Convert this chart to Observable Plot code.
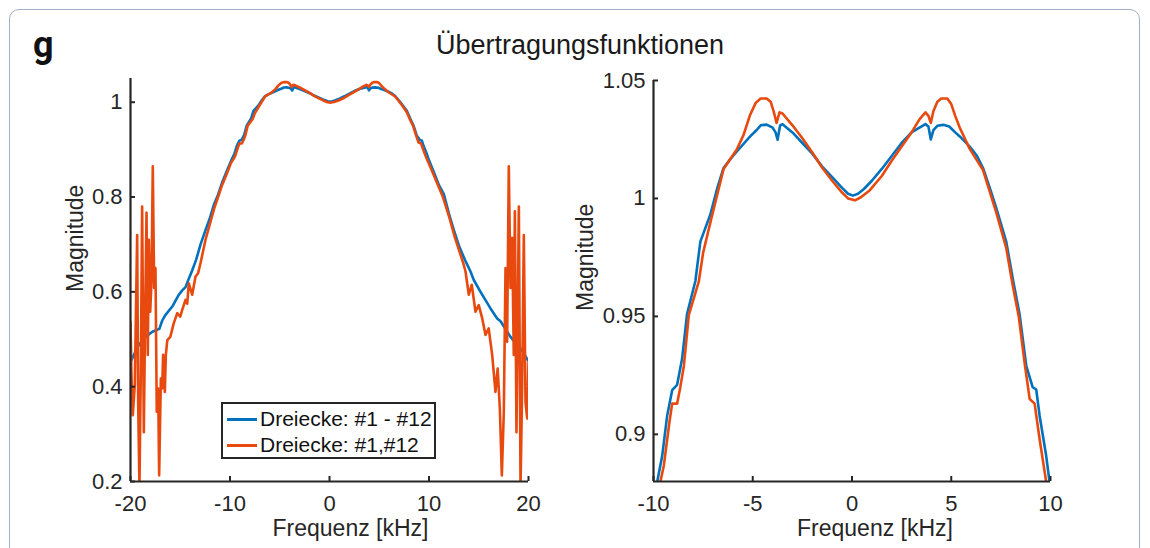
<!DOCTYPE html>
<html>
<head>
<meta charset="utf-8">
<script src="https://cdn.jsdelivr.net/npm/d3@7"></script>
<script src="https://cdn.jsdelivr.net/npm/@observablehq/plot@0.6"></script>
<style>
  html, body { margin: 0; padding: 0; width: 1150px; height: 548px; overflow: hidden; background: #fff; }
  #wrap { position: relative; width: 1150px; height: 548px; font-family: "Liberation Sans", Arial, sans-serif; }
  #frame { position: absolute; left: 9px; top: 9px; width: 1131px; height: 600px; border: 1.5px solid #a3b1c6; border-radius: 10px; box-sizing: border-box; }
  .plotlayer { position: absolute; left: 0; top: 0; }
  #panel { position: absolute; left: 33px; top: 24px; font-family: Roboto, "Noto Sans", sans-serif; font-weight: 700; font-size: 36px; color: #111; }
  #title { position: absolute; left: 0; width: 1160px; top: 30px; text-align: center; font-size: 27px; color: #1a1a1a; }
  #legend { position: absolute; left: 221px; top: 402px; width: 215px; height: 57px; border: 2px solid #262626; background: #fff; box-sizing: border-box; font-size: 21px; color: #111; }
  .item { position: absolute; left: 0; height: 26px; line-height: 26px; }
  .item .sw { position: absolute; left: 4px; top: 12px; width: 30px; height: 3px; }
  .item span { position: absolute; left: 37px; white-space: nowrap; }
</style>
</head>
<body>
<div id="wrap">
  <div id="frame"></div>
  <div id="panel">g</div>
  <div id="title">Übertragungsfunktionen</div>
</div>
<script>
// ---------- data ----------
const seriesNames = ["Dreiecke: #1 - #12", "Dreiecke: #1,#12"];
const seriesColors = ["#0072BD", "#E8490E"];

// Series 1 (blue): frequency [kHz] and magnitude
const freqBlue = [-20, -19.6, -19.16, -18.5, -17.8, -17.1, -16.8, -16.5, -15.8, -15.14, -14.8, -14.47, -14.1, -13.8, -13.4, -12.96, -12.5, -12.0, -11.6, -11.2, -10.8, -10.3, -9.81, -9.56, -9.31, -9.06, -8.81, -8.56, -8.31, -7.89, -7.64, -7.14, -6.8, -6.47, -6.1, -5.79, -5.13, -4.8, -4.6, -4.3, -4.0, -3.85, -3.75, -3.62, -3.5, -3.0, -2.5, -2.0, -1.5, -1.0, -0.5, -0.2, 0.05, 0.3, 0.6, 1.0, 1.5, 2.0, 2.5, 3.0, 3.4, 3.7, 3.85, 3.97, 4.1, 4.3, 4.6, 4.9, 5.2, 5.43, 5.93, 6.3, 6.6, 7.0, 7.27, 7.77, 8.1, 8.44, 8.78, 9.1, 9.28, 9.45, 9.78, 9.95, 10.5, 11.0, 11.49, 12.0, 12.5, 13.0, 13.6, 14.17, 14.5, 15.18, 15.6, 16.18, 16.85, 17.19, 17.86, 18.19, 18.86, 19.4, 19.87, 20];
const magBlue = [0.452, 0.47, 0.488, 0.505, 0.516, 0.522, 0.54, 0.551, 0.569, 0.594, 0.603, 0.61, 0.63, 0.645, 0.668, 0.70, 0.728, 0.757, 0.785, 0.805, 0.83, 0.856, 0.88, 0.891, 0.908, 0.9187, 0.921, 0.932, 0.951, 0.965, 0.9817, 0.9931, 1.004, 1.0129, 1.017, 1.020, 1.0263, 1.029, 1.031, 1.0313, 1.030, 1.028, 1.0249, 1.031, 1.0315, 1.028, 1.0235, 1.019, 1.0135, 1.009, 1.0045, 1.002, 1.0012, 1.002, 1.004, 1.0075, 1.0125, 1.018, 1.0235, 1.028, 1.030, 1.0315, 1.0305, 1.025, 1.029, 1.0308, 1.0312, 1.0305, 1.028, 1.0263, 1.022, 1.018, 1.0129, 1.003, 0.9959, 0.9817, 0.966, 0.951, 0.929, 0.920, 0.919, 0.908, 0.891, 0.88, 0.852, 0.825, 0.806, 0.765, 0.73, 0.698, 0.668, 0.643, 0.625, 0.60, 0.585, 0.565, 0.544, 0.538, 0.516, 0.505, 0.488, 0.475, 0.458, 0.455];

// Series 2 (orange): frequency [kHz] and magnitude
const freqOrange = [-20.0, -19.9, -19.77, -19.57, -19.33, -19.23, -19.1, -18.96, -18.83, -18.66, -18.56, -18.39, -18.26, -18.16, -18.02, -17.89, -17.76, -17.62, -17.49, -17.36, -17.22, -17.12, -16.95, -16.82, -16.72, -16.55, -16.45, -16.3, -16.0, -15.65, -15.3, -15.0, -14.8, -14.47, -14.3, -14.14, -13.8, -13.47, -13.2, -12.96, -12.46, -12.0, -11.6, -11.2, -10.8, -10.3, -9.9, -9.65, -9.48, -9.2, -9.06, -8.81, -8.65, -8.47, -8.22, -7.72, -7.5, -7.1, -6.47, -5.79, -5.46, -5.13, -4.85, -4.6, -4.3, -4.1, -3.95, -3.8, -3.65, -3.5, -3.0, -2.5, -2.0, -1.5, -1.0, -0.5, -0.2, 0.15, 0.45, 0.9, 1.5, 2.0, 2.5, 3.0, 3.4, 3.7, 3.85, 3.97, 4.1, 4.3, 4.5, 4.8, 5.0, 5.2, 5.43, 5.93, 6.6, 7.27, 7.77, 8.1, 8.4, 8.7, 8.95, 9.2, 9.45, 9.78, 10.2, 10.8, 11.4, 12.0, 12.6, 13.17, 13.45, 13.67, 14.0, 14.3, 14.67, 15.0, 15.35, 15.68, 16.0, 16.35, 16.68, 16.9, 17.12, 17.32, 17.52, 17.69, 17.85, 18.02, 18.19, 18.36, 18.52, 18.63, 18.79, 19.03, 19.2, 19.36, 19.53, 19.7, 19.87, 20.0];
const magOrange = [0.537, 0.424, 0.34, 0.403, 0.72, 0.368, 0.19, 0.438, 0.78, 0.304, 0.495, 0.767, 0.467, 0.71, 0.558, 0.622, 0.865, 0.608, 0.65, 0.347, 0.396, 0.213, 0.417, 0.396, 0.467, 0.389, 0.467, 0.498, 0.505, 0.534, 0.555, 0.548, 0.562, 0.583, 0.575, 0.618, 0.594, 0.632, 0.64, 0.661, 0.71, 0.745, 0.775, 0.80, 0.825, 0.85, 0.872, 0.88, 0.8868, 0.905, 0.913, 0.913, 0.92, 0.929, 0.9506, 0.9647, 0.977, 0.991, 1.0125, 1.021, 1.027, 1.0355, 1.0405, 1.0424, 1.0424, 1.041, 1.037, 1.032, 1.0365, 1.036, 1.031, 1.0255, 1.0195, 1.013, 1.0075, 1.0025, 1.0, 0.9992, 1.0005, 1.0035, 1.0095, 1.016, 1.022, 1.028, 1.0335, 1.0365, 1.035, 1.032, 1.037, 1.041, 1.0424, 1.0424, 1.040, 1.035, 1.030, 1.021, 1.012, 0.994, 0.979, 0.963, 0.95, 0.93, 0.915, 0.913, 0.898, 0.88, 0.86, 0.83, 0.80, 0.76, 0.715, 0.678, 0.66, 0.643, 0.594, 0.615, 0.558, 0.572, 0.544, 0.509, 0.523, 0.467, 0.389, 0.438, 0.354, 0.213, 0.347, 0.65, 0.495, 0.865, 0.608, 0.714, 0.467, 0.77, 0.304, 0.78, 0.19, 0.396, 0.72, 0.368, 0.333, 0.452];

// Axis domains and ticks
const xDomainLeft = [-20, 20];
const yDomainLeft = [0.2, 1.05];
const xTicksLeft = [-20, -10, 0, 10, 20];
const yTicksLeft = [0.2, 0.4, 0.6, 0.8, 1];
const xDomainRight = [-10, 10];
const yDomainRight = [0.88, 1.05];
const xTicksRight = [-10, -5, 0, 5, 10];
const yTicksRight = [0.9, 0.95, 1, 1.05];
const xLabel = "Frequenz [kHz]";
const yLabel = "Magnitude";

// ---------- build ----------
const blue = freqBlue.map((f, i) => ({f, v: magBlue[i], s: seriesNames[0]}));
const orange = freqOrange.map((f, i) => ({f, v: magOrange[i], s: seriesNames[1]}));
const ink = "#262626";

function panel({margins, xDomain, yDomain, xTicks, yTicks, xLabelDx, yLabelDx, yLabelDy}) {
  return Plot.plot({
    width: 1150, height: 548,
    ...margins,
    style: {background: "none", fontFamily: "'Liberation Sans', Arial, sans-serif", color: ink, overflow: "visible"},
    x: {domain: xDomain},
    y: {domain: yDomain},
    marks: [
      Plot.line(blue, {x: "f", y: "v", stroke: seriesColors[0], strokeWidth: 2.6, clip: true, strokeLinejoin: "round"}),
      Plot.line(orange, {x: "f", y: "v", stroke: seriesColors[1], strokeWidth: 2.6, clip: true, strokeLinejoin: "round"}),
      Plot.ruleX([xDomain[0]], {stroke: ink, strokeWidth: 2.2}),
      Plot.ruleY([yDomain[0]], {stroke: ink, strokeWidth: 2.2}),
      Plot.axisX(xTicks, {tickSize: -5, tickPadding: 19, strokeWidth: 2, fontSize: 22, tickFormat: d => String(d), label: null, fill: ink}),
      Plot.axisY(yTicks, {tickSize: -5, tickPadding: 13, strokeWidth: 2, fontSize: 22, tickFormat: d => String(d), label: null, fill: ink}),
      Plot.text([xLabel], {frameAnchor: "bottom", dy: 54, dx: xLabelDx, fontSize: 23, fill: ink}),
      Plot.text([yLabel], {frameAnchor: "left", rotate: -90, dx: yLabelDx, dy: yLabelDy, fontSize: 23, fill: ink})
    ]
  });
}

const left = panel({
  margins: {marginLeft: 130, marginRight: 622, marginTop: 78, marginBottom: 67},
  xDomain: xDomainLeft, yDomain: yDomainLeft, xTicks: xTicksLeft, yTicks: yTicksLeft,
  xLabelDx: 21, yLabelDx: -55, yLabelDy: 12
});
const right = panel({
  margins: {marginLeft: 653, marginRight: 100, marginTop: 80, marginBottom: 67},
  xDomain: xDomainRight, yDomain: yDomainRight, xTicks: xTicksRight, yTicks: yTicksRight,
  xLabelDx: 23, yLabelDx: -68, yLabelDy: 30
});
left.classList.add("plotlayer");
right.classList.add("plotlayer");
const wrap = document.getElementById("wrap");
wrap.appendChild(left);
wrap.appendChild(right);

// legend (HTML)
const lg = document.createElement("div");
lg.id = "legend";
seriesNames.forEach((name, i) => {
  const it = document.createElement("div");
  it.className = "item";
  it.style.top = (i === 0 ? 2 : 28) + "px";
  it.innerHTML = `<div class="sw" style="background:${seriesColors[i]}"></div><span>${name}</span>`;
  lg.appendChild(it);
});
wrap.appendChild(lg);
</script>
</body>
</html>
